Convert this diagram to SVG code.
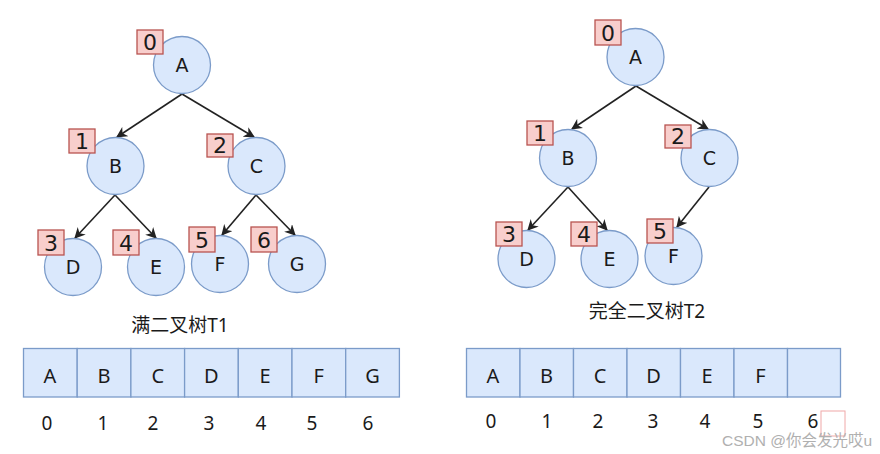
<svg xmlns="http://www.w3.org/2000/svg" width="880" height="454" viewBox="0 0 880 454">
<style>
.n{fill:#dae8fc;stroke:#7b9bc9;stroke-width:1.3}
.b{fill:#f8cecc;stroke:#b85450;stroke-width:1.3}
.t{font-family:"DejaVu Sans","Noto Sans",sans-serif;font-size:19px;fill:#1a1a1a;text-anchor:middle}
.k{font-family:"DejaVu Sans","Noto Sans",sans-serif;font-size:22px;fill:#1a1a1a;text-anchor:middle}
.c{fill:#dae8fc;stroke:#7b9bc9;stroke-width:1.3}
.a{font-family:"Noto Sans","DejaVu Sans",sans-serif;font-size:20px;fill:#1a1a1a;text-anchor:middle}
.i{font-family:"Noto Sans","DejaVu Sans",sans-serif;font-size:19px;fill:#1a1a1a;text-anchor:middle}
.cap{font-family:"Noto Sans","Noto Sans CJK SC",sans-serif;font-size:19px;fill:#1a1a1a;text-anchor:middle}
.e{stroke:#222;stroke-width:1.6;fill:none;marker-end:url(#ar)}
.w{font-family:"Liberation Sans","Noto Sans CJK SC",sans-serif;font-size:15.5px;fill:#b0b0b0}
</style>
<defs>
<marker id="ar" viewBox="0 0 10 10" refX="9" refY="5" markerWidth="11" markerHeight="11" orient="auto" markerUnits="userSpaceOnUse">
<path d="M0,0 L10,5 L0,10 L3,5 Z" fill="#222"/>
</marker>
</defs>
<rect width="880" height="454" fill="#ffffff"/>

<g id="edges">
<line class="e" x1="182" y1="94" x2="117" y2="137"/>
<line class="e" x1="182" y1="94" x2="254" y2="137"/>
<line class="e" x1="115" y1="195" x2="75" y2="238"/>
<line class="e" x1="115" y1="195" x2="156" y2="238"/>
<line class="e" x1="256" y1="195" x2="222" y2="235"/>
<line class="e" x1="256" y1="195" x2="295" y2="235"/>
<line class="e" x1="636" y1="86" x2="572" y2="129"/>
<line class="e" x1="636" y1="86" x2="708" y2="129"/>
<line class="e" x1="568" y1="187" x2="528" y2="230"/>
<line class="e" x1="568" y1="187" x2="607" y2="230"/>
<line class="e" x1="709" y1="187" x2="677" y2="227"/>
</g>

<g id="t1-A"><circle class="n" cx="182" cy="65" r="28.5"/><text class="t" x="182" y="72">A</text><rect class="b" x="137" y="30" width="26" height="24"/><text class="k" x="150" y="50">0</text></g>
<g id="t1-B"><circle class="n" cx="115.5" cy="166" r="28.5"/><text class="t" x="115.5" y="173">B</text><rect class="b" x="69" y="129" width="26" height="24"/><text class="k" x="82" y="149">1</text></g>
<g id="t1-C"><circle class="n" cx="256.5" cy="166" r="28.5"/><text class="t" x="256.5" y="173">C</text><rect class="b" x="207" y="134" width="26" height="23"/><text class="k" x="220" y="153">2</text></g>
<g id="t1-D"><circle class="n" cx="73" cy="267" r="28.5"/><text class="t" x="73" y="274">D</text><rect class="b" x="38" y="230" width="26" height="25"/><text class="k" x="51" y="251">3</text></g>
<g id="t1-E"><circle class="n" cx="156" cy="267" r="28.5"/><text class="t" x="156" y="274">E</text><rect class="b" x="113" y="230" width="26" height="25"/><text class="k" x="126" y="251">4</text></g>
<g id="t1-F"><circle class="n" cx="220" cy="264" r="28.5"/><text class="t" x="220" y="271">F</text><rect class="b" x="189" y="227" width="26" height="25"/><text class="k" x="202" y="248">5</text></g>
<g id="t1-G"><circle class="n" cx="297" cy="264" r="28.5"/><text class="t" x="297" y="271">G</text><rect class="b" x="251" y="227" width="26" height="25"/><text class="k" x="264" y="248">6</text></g>

<g id="t2-A"><circle class="n" cx="635.5" cy="57" r="28.5"/><text class="t" x="635.5" y="64">A</text><rect class="b" x="595" y="20" width="26" height="25"/><text class="k" x="608" y="41">0</text></g>
<g id="t2-B"><circle class="n" cx="568" cy="158" r="28.5"/><text class="t" x="568" y="165">B</text><rect class="b" x="527" y="121" width="26" height="24"/><text class="k" x="540" y="141">1</text></g>
<g id="t2-C"><circle class="n" cx="709.5" cy="158" r="28.5"/><text class="t" x="709.5" y="165">C</text><rect class="b" x="665" y="125" width="26" height="23"/><text class="k" x="678" y="144">2</text></g>
<g id="t2-D"><circle class="n" cx="526.5" cy="259" r="28.5"/><text class="t" x="526.5" y="266">D</text><rect class="b" x="496" y="222" width="26" height="24"/><text class="k" x="509" y="242">3</text></g>
<g id="t2-E"><circle class="n" cx="609.5" cy="259" r="28.5"/><text class="t" x="609.5" y="266">E</text><rect class="b" x="571" y="222" width="26" height="24"/><text class="k" x="584" y="242">4</text></g>
<g id="t2-F"><circle class="n" cx="673.5" cy="256" r="28.5"/><text class="t" x="673.5" y="263">F</text><rect class="b" x="647" y="219" width="26" height="24"/><text class="k" x="660" y="239">5</text></g>

<text class="cap" x="180" y="332">满二叉树T1</text>
<text class="cap" x="647" y="318">完全二叉树T2</text>

<g id="arr1">
<rect class="c" x="23.5" y="348.5" width="53.7" height="48.5"/><text class="a" x="50" y="383">A</text>
<rect class="c" x="77.2" y="348.5" width="53.7" height="48.5"/><text class="a" x="104" y="383">B</text>
<rect class="c" x="130.9" y="348.5" width="53.7" height="48.5"/><text class="a" x="157.7" y="383">C</text>
<rect class="c" x="184.6" y="348.5" width="53.7" height="48.5"/><text class="a" x="211.4" y="383">D</text>
<rect class="c" x="238.3" y="348.5" width="53.7" height="48.5"/><text class="a" x="265.1" y="383">E</text>
<rect class="c" x="292" y="348.5" width="53.7" height="48.5"/><text class="a" x="318.8" y="383">F</text>
<rect class="c" x="345.7" y="348.5" width="53.7" height="48.5"/><text class="a" x="372.5" y="383">G</text>
</g>
<g id="idx1">
<text class="i" x="47" y="430">0</text>
<text class="i" x="103" y="430">1</text>
<text class="i" x="153" y="430">2</text>
<text class="i" x="209" y="430">3</text>
<text class="i" x="261" y="430">4</text>
<text class="i" x="312" y="430">5</text>
<text class="i" x="368" y="430">6</text>
</g>

<g id="arr2">
<rect class="c" x="466.5" y="348.5" width="53.5" height="48.5"/><text class="a" x="493" y="383">A</text>
<rect class="c" x="520" y="348.5" width="53.5" height="48.5"/><text class="a" x="546.5" y="383">B</text>
<rect class="c" x="573.5" y="348.5" width="53.5" height="48.5"/><text class="a" x="600" y="383">C</text>
<rect class="c" x="627" y="348.5" width="53.5" height="48.5"/><text class="a" x="653.5" y="383">D</text>
<rect class="c" x="680.5" y="348.5" width="53.5" height="48.5"/><text class="a" x="707" y="383">E</text>
<rect class="c" x="734" y="348.5" width="53.5" height="48.5"/><text class="a" x="760.5" y="383">F</text>
<rect class="c" x="787.5" y="348.5" width="53" height="48.5"/>
</g>
<g id="idx2">
<text class="i" x="491" y="428">0</text>
<text class="i" x="547" y="428">1</text>
<text class="i" x="598" y="428">2</text>
<text class="i" x="653" y="428">3</text>
<text class="i" x="705" y="428">4</text>
<text class="i" x="758" y="428">5</text>
<text class="i" x="813" y="428">6</text>
</g>

<rect x="821" y="411" width="24" height="25" fill="none" stroke="#f0a8a8" stroke-width="1"/>
<text class="w" x="722" y="446">CSDN @你会发光哎u</text>
</svg>
